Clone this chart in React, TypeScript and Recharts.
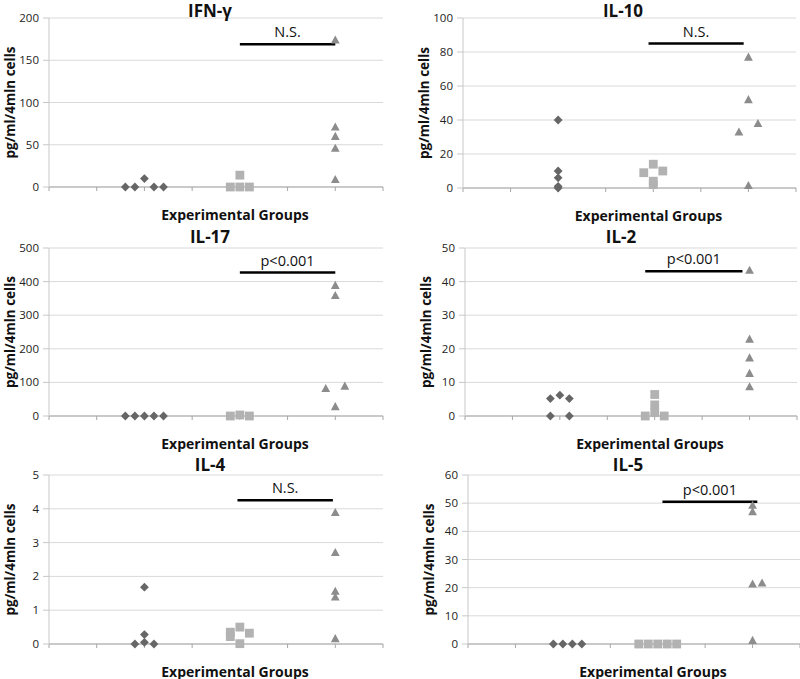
import {
  ScatterChart,
  Scatter,
  XAxis,
  YAxis,
  CartesianGrid,
  ReferenceLine,
  Label,
} from "recharts";

// values; x is the jittered group position (groups at 2, 4, 6)
const groupTicks = [0, 1, 2, 3, 4, 5, 6, 7];

const ifngGroup1 = [
  { x: 1.6, y: 0 }, { x: 1.8, y: 0 }, { x: 2, y: 10 }, { x: 2.2, y: 0 }, { x: 2.4, y: 0 },
];
const ifngGroup2 = [{ x: 3.8, y: 0 }, { x: 4, y: 0 }, { x: 4.2, y: 0 }, { x: 4, y: 14 }];
const ifngGroup3 = [
  { x: 6, y: 174 }, { x: 6, y: 71 }, { x: 6, y: 60 }, { x: 6, y: 46 }, { x: 6, y: 9 },
];
const ifngTicks = [0, 50, 100, 150, 200];

const il10Group1 = [
  { x: 2, y: 40 }, { x: 2, y: 10 }, { x: 2, y: 6 }, { x: 2, y: 1 }, { x: 2, y: 0 },
];
const il10Group2 = [
  { x: 3.8, y: 9 }, { x: 4, y: 14 }, { x: 4, y: 4 }, { x: 4, y: 2 }, { x: 4.2, y: 10 },
];
const il10Group3 = [
  { x: 6, y: 77 }, { x: 6, y: 52 }, { x: 5.8, y: 33 }, { x: 6.2, y: 38 }, { x: 6, y: 1.5 },
];
const il10Ticks = [0, 20, 40, 60, 80, 100];

const il17Group1 = [
  { x: 1.6, y: 0 }, { x: 1.8, y: 0 }, { x: 2, y: 0 }, { x: 2.2, y: 0 }, { x: 2.4, y: 0 },
];
const il17Group2 = [{ x: 3.8, y: 0 }, { x: 4, y: 3 }, { x: 4.2, y: 0 }];
const il17Group3 = [
  { x: 6, y: 389 }, { x: 6, y: 359 }, { x: 5.8, y: 82 }, { x: 6.2, y: 89 }, { x: 6, y: 28 },
];
const il17Ticks = [0, 100, 200, 300, 400, 500];

const il2Group1 = [
  { x: 1.8, y: 5.2 }, { x: 2, y: 6.2 }, { x: 2.2, y: 5.2 }, { x: 1.8, y: 0 }, { x: 2.2, y: 0 },
];
const il2Group2 = [
  { x: 3.8, y: 0 }, { x: 4, y: 6.4 }, { x: 4, y: 3.3 }, { x: 4, y: 1 }, { x: 4.2, y: 0 },
];
const il2Group3 = [
  { x: 6, y: 43.4 }, { x: 6, y: 22.9 }, { x: 6, y: 17.3 }, { x: 6, y: 12.7 }, { x: 6, y: 8.7 },
];
const il2Ticks = [0, 10, 20, 30, 40, 50];

const il4Group1 = [
  { x: 1.8, y: 0 }, { x: 2, y: 1.68 }, { x: 2, y: 0.28 }, { x: 2, y: 0.05 }, { x: 2.2, y: 0 },
];
const il4Group2 = [
  { x: 3.8, y: 0.35 }, { x: 3.8, y: 0.22 }, { x: 4, y: 0.5 }, { x: 4, y: 0.01 }, { x: 4.2, y: 0.32 },
];
const il4Group3 = [
  { x: 6, y: 3.89 }, { x: 6, y: 2.71 }, { x: 6, y: 1.56 }, { x: 6, y: 1.39 }, { x: 6, y: 0.16 },
];
const il4Ticks = [0, 1, 2, 3, 4, 5];

const il5Group1 = [{ x: 1.8, y: 0 }, { x: 2, y: 0 }, { x: 2.2, y: 0 }, { x: 2.4, y: 0 }];
const il5Group2 = [
  { x: 3.6, y: 0 }, { x: 3.8, y: 0 }, { x: 4, y: 0 }, { x: 4.2, y: 0 }, { x: 4.4, y: 0 },
];
const il5Group3 = [
  { x: 6, y: 49.3 }, { x: 6, y: 47 }, { x: 6, y: 21.3 }, { x: 6.2, y: 21.7 }, { x: 6, y: 1.3 },
];
const il5Ticks = [0, 10, 20, 30, 40, 50, 60];

// significance bars: [from x, to x, height]
const ifngBar = [4, 6, 169];
const il10Bar = [3.9, 5.9, 85];
const il17Bar = [4, 6, 427];
const il2Bar = [3.8, 5.85, 43.1];
const il4Bar = [3.95, 5.95, 4.25];
const il5Bar = [4.1, 6.1, 50.5];

const FONT = "'Open Sans', 'Liberation Sans', sans-serif";

const DiamondShape = (p: any) => {
  const { cx, cy } = p;
  const r = 4.4;
  return (
    <polygon
      points={`${cx},${cy - r} ${cx + r},${cy} ${cx},${cy + r} ${cx - r},${cy}`}
      fill="#666666"
    />
  );
};

const SquareShape = (p: any) => {
  const { cx, cy } = p;
  return <rect x={cx - 4.4} y={cy - 4.4} width={8.8} height={8.8} fill="#b2b2b2" />;
};

const TriangleShape = (p: any) => {
  const { cx, cy } = p;
  return (
    <polygon
      points={`${cx},${cy - 4.5} ${cx + 4.4},${cy + 3.6} ${cx - 4.4},${cy + 3.6}`}
      fill="#8c8c8c"
    />
  );
};

const XTitle = (props: any) => {
  const vb = props.viewBox || { x: 0, y: 0, width: 0 };
  return (
    <text
      x={vb.x + vb.width / 2 + 19}
      y={vb.y + 27}
      textAnchor="middle"
      dominantBaseline="central"
      fontFamily={FONT}
      fontWeight="bold"
      fontSize={14}
      fill="#111"
    >
      Experimental Groups
    </text>
  );
};

const YTitle = (props: any) => {
  const vb = props.viewBox || { x: 0, y: 0, width: 0, height: 0 };
  const x = vb.x + vb.width - 39;
  const y = vb.y + vb.height / 2;
  return (
    <text
      x={x}
      y={y}
      transform={`rotate(-90 ${x} ${y})`}
      textAnchor="middle"
      dominantBaseline="central"
      fontFamily={FONT}
      fontWeight="bold"
      fontSize={13.5}
      fill="#111"
    >
      pg/ml/4mln cells
    </text>
  );
};

type PanelProps = {
  title: string;
  titleX: number;
  titleY: number;
  left: number;
  top: number;
  width: number;
  plot: { l: number; r: number; t: number; b: number };
  g1: { x: number; y: number }[];
  g2: { x: number; y: number }[];
  g3: { x: number; y: number }[];
  yTicks: number[];
  bar: number[];
  sig: string;
};

function Panel(p: PanelProps) {
  const yAxisW = 35;
  const xAxisH = 30;
  const height = 240;
  const margin = {
    top: p.plot.t,
    right: p.width - p.plot.r,
    left: p.plot.l - yAxisW,
    bottom: height - p.plot.b - xAxisH,
  };
  const yMax = p.yTicks[p.yTicks.length - 1];
  return (
    <div style={{ position: "absolute", left: p.left, top: p.top, width: p.width, height }}>
      <ScatterChart width={p.width} height={height} margin={margin}>
        <CartesianGrid vertical={false} stroke="#d9d9d9" />
        <XAxis
          type="number"
          dataKey="x"
          domain={[0, 7]}
          ticks={groupTicks}
          interval={0}
          height={xAxisH}
          axisLine={{ stroke: "#a6a6a6" }}
          tickLine={{ stroke: "#a6a6a6" }}
          tickSize={4}
          tickFormatter={() => ""}
        >
          <Label content={<XTitle />} />
        </XAxis>
        <YAxis
          type="number"
          dataKey="y"
          domain={[0, yMax]}
          ticks={p.yTicks}
          interval={0}
          width={yAxisW}
          axisLine={{ stroke: "#c8c8c8" }}
          tickLine={{ stroke: "#c8c8c8" }}
          tickSize={6}
          tickMargin={4}
          tick={{ fill: "#222", fontSize: 11.5, fontFamily: FONT }}
        >
          <Label content={<YTitle />} />
        </YAxis>
        <Scatter data={p.g1} shape={<DiamondShape />} isAnimationActive={false} />
        <Scatter data={p.g2} shape={<SquareShape />} isAnimationActive={false} />
        <Scatter data={p.g3} shape={<TriangleShape />} isAnimationActive={false} />
        <ReferenceLine
          segment={[
            { x: p.bar[0], y: p.bar[2] },
            { x: p.bar[1], y: p.bar[2] },
          ]}
          stroke="#000"
          strokeWidth={2.5}
          ifOverflow="visible"
          label={{
            value: p.sig,
            position: "top",
            offset: 7,
            fill: "#111",
            fontSize: 14.5,
            fontFamily: FONT,
          }}
        />
      </ScatterChart>
      <div
        style={{
          position: "absolute",
          left: p.titleX - p.left - 100,
          top: p.titleY - p.top - 11,
          width: 200,
          lineHeight: "22px",
          textAlign: "center",
          fontFamily: FONT,
          fontWeight: "bold",
          fontSize: 17,
          color: "#111",
        }}
      >
        {p.title}
      </div>
    </div>
  );
}

export default function App() {
  return (
    <div style={{ position: "absolute", left: 0, top: 0, width: 800, height: 679, background: "#fff", overflow: "hidden" }}>
      <Panel
        title="IFN-γ" titleX={210} titleY={11}
        left={0} top={0} width={400}
        plot={{ l: 49, r: 383, t: 18, b: 187 }}
        g1={ifngGroup1} g2={ifngGroup2} g3={ifngGroup3}
        yTicks={ifngTicks} bar={ifngBar} sig="N.S."
      />
      <Panel
        title="IL-10" titleX={623} titleY={11}
        left={400} top={0} width={400}
        plot={{ l: 63, r: 396, t: 18, b: 188 }}
        g1={il10Group1} g2={il10Group2} g3={il10Group3}
        yTicks={il10Ticks} bar={il10Bar} sig="N.S."
      />
      <Panel
        title="IL-17" titleX={210} titleY={237}
        left={0} top={225} width={400}
        plot={{ l: 49, r: 383, t: 23, b: 191 }}
        g1={il17Group1} g2={il17Group2} g3={il17Group3}
        yTicks={il17Ticks} bar={il17Bar} sig="p<0.001"
      />
      <Panel
        title="IL-2" titleX={621} titleY={237}
        left={400} top={225} width={400}
        plot={{ l: 65, r: 397, t: 23, b: 191 }}
        g1={il2Group1} g2={il2Group2} g3={il2Group3}
        yTicks={il2Ticks} bar={il2Bar} sig="p<0.001"
      />
      <Panel
        title="IL-4" titleX={210} titleY={465}
        left={0} top={450} width={400}
        plot={{ l: 49, r: 383, t: 25, b: 194 }}
        g1={il4Group1} g2={il4Group2} g3={il4Group3}
        yTicks={il4Ticks} bar={il4Bar} sig="N.S."
      />
      <Panel
        title="IL-5" titleX={628} titleY={465}
        left={400} top={450} width={400}
        plot={{ l: 68, r: 400, t: 25, b: 194 }}
        g1={il5Group1} g2={il5Group2} g3={il5Group3}
        yTicks={il5Ticks} bar={il5Bar} sig="p<0.001"
      />
    </div>
  );
}
